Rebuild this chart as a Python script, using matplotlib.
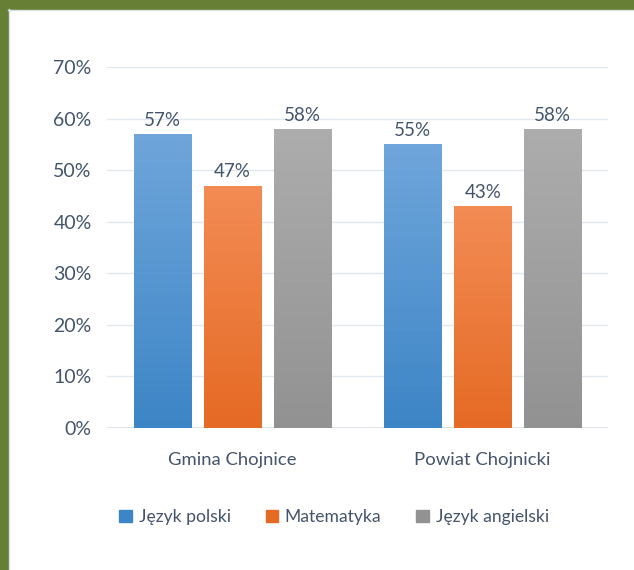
import numpy as np
import matplotlib.pyplot as plt
from matplotlib.patches import Rectangle
from matplotlib.colors import LinearSegmentedColormap

plt.rcParams['font.family'] = ['Lato', 'DejaVu Sans']

categories = ['Gmina Chojnice', 'Powiat Chojnicki']
series = ['Język polski', 'Matematyka', 'Język angielski']
values = [
    [57, 55],   # Język polski
    [47, 43],   # Matematyka
    [58, 58],   # Język angielski
]
yticks = [0, 10, 20, 30, 40, 50, 60, 70]

# top colour, bottom colour for each series
grads = [('#6FA6DB', '#3D85C6'), ('#F38C55', '#E56A24'), ('#ADADAD', '#929292')]
txt = '#44546A'

fig = plt.figure(figsize=(6.34, 5.70), dpi=100)
fig.patch.set_facecolor('white')

# green frame top and left
fig.patches.append(Rectangle((0, 1 - 9 / 570), 1, 9 / 570, transform=fig.transFigure,
                             color='#667F35', zorder=0))
fig.patches.append(Rectangle((0, 0), 8 / 634, 1, transform=fig.transFigure,
                             color='#667F35', zorder=0))
fig.lines.append(plt.Line2D([8 / 634, 1], [1 - 9.5 / 570, 1 - 9.5 / 570],
                            transform=fig.transFigure, color='#D9E1E8', lw=1))
fig.lines.append(plt.Line2D([8.5 / 634, 8.5 / 634], [0, 1 - 9 / 570],
                            transform=fig.transFigure, color='#D9E1E8', lw=1))

ax = fig.add_axes([107 / 634, 1 - 428 / 570, 501 / 634, 361 / 570])

x = np.arange(len(categories))
bw = 57 / 250
step = 70 / 250
for i, (name, vals) in enumerate(zip(series, values)):
    pos = x + (i - 1) * step
    cmap = LinearSegmentedColormap.from_list(name, [grads[i][1], grads[i][0]])
    bars = ax.bar(pos, vals, width=bw, color=grads[i][0], label=name, zorder=2)
    for b, v in zip(bars, vals):
        grad = np.linspace(0, 1, 256).reshape(-1, 1)
        im = ax.imshow(grad, cmap=cmap, aspect='auto', origin='lower',
                       extent=[b.get_x(), b.get_x() + b.get_width(), 0, v], zorder=3)
        im.set_clip_path(b)
        ax.text(b.get_x() + b.get_width() / 2, v + 1.0, f'{v}%', ha='center', va='bottom',
                fontsize=13.5, color=txt, zorder=4)

ax.set_xlim(-0.5, 1.5)
ax.set_ylim(0, 70)
ax.set_yticks(yticks)
ax.set_yticklabels([f'{t}%' for t in yticks], fontsize=14, color=txt)
ax.set_xticks(x)
ax.set_xticklabels(categories, fontsize=13.3, color=txt)
ax.tick_params(length=0)
ax.tick_params(axis='y', pad=11)
ax.tick_params(axis='x', pad=17)
ax.grid(axis='y', color='#E3E8EE', lw=1, zorder=0)
ax.set_axisbelow(True)
for s in ax.spines.values():
    s.set_visible(False)
ax.axhline(0, color='#D9DEE6', lw=1.2, zorder=1)

handles, labels = ax.get_legend_handles_labels()
handles = [Rectangle((0, 0), 1, 1, color=grads[i][1]) for i in range(3)]
fig.legend(handles, labels, loc='center', bbox_to_anchor=(334 / 634, 1 - 517 / 570),
           ncol=3, frameon=False, fontsize=12.6, labelcolor=txt, handlelength=0.7,
           handleheight=0.7, handletextpad=0.4, columnspacing=2.0)

fig.savefig('out.png', dpi=100, facecolor='white')
